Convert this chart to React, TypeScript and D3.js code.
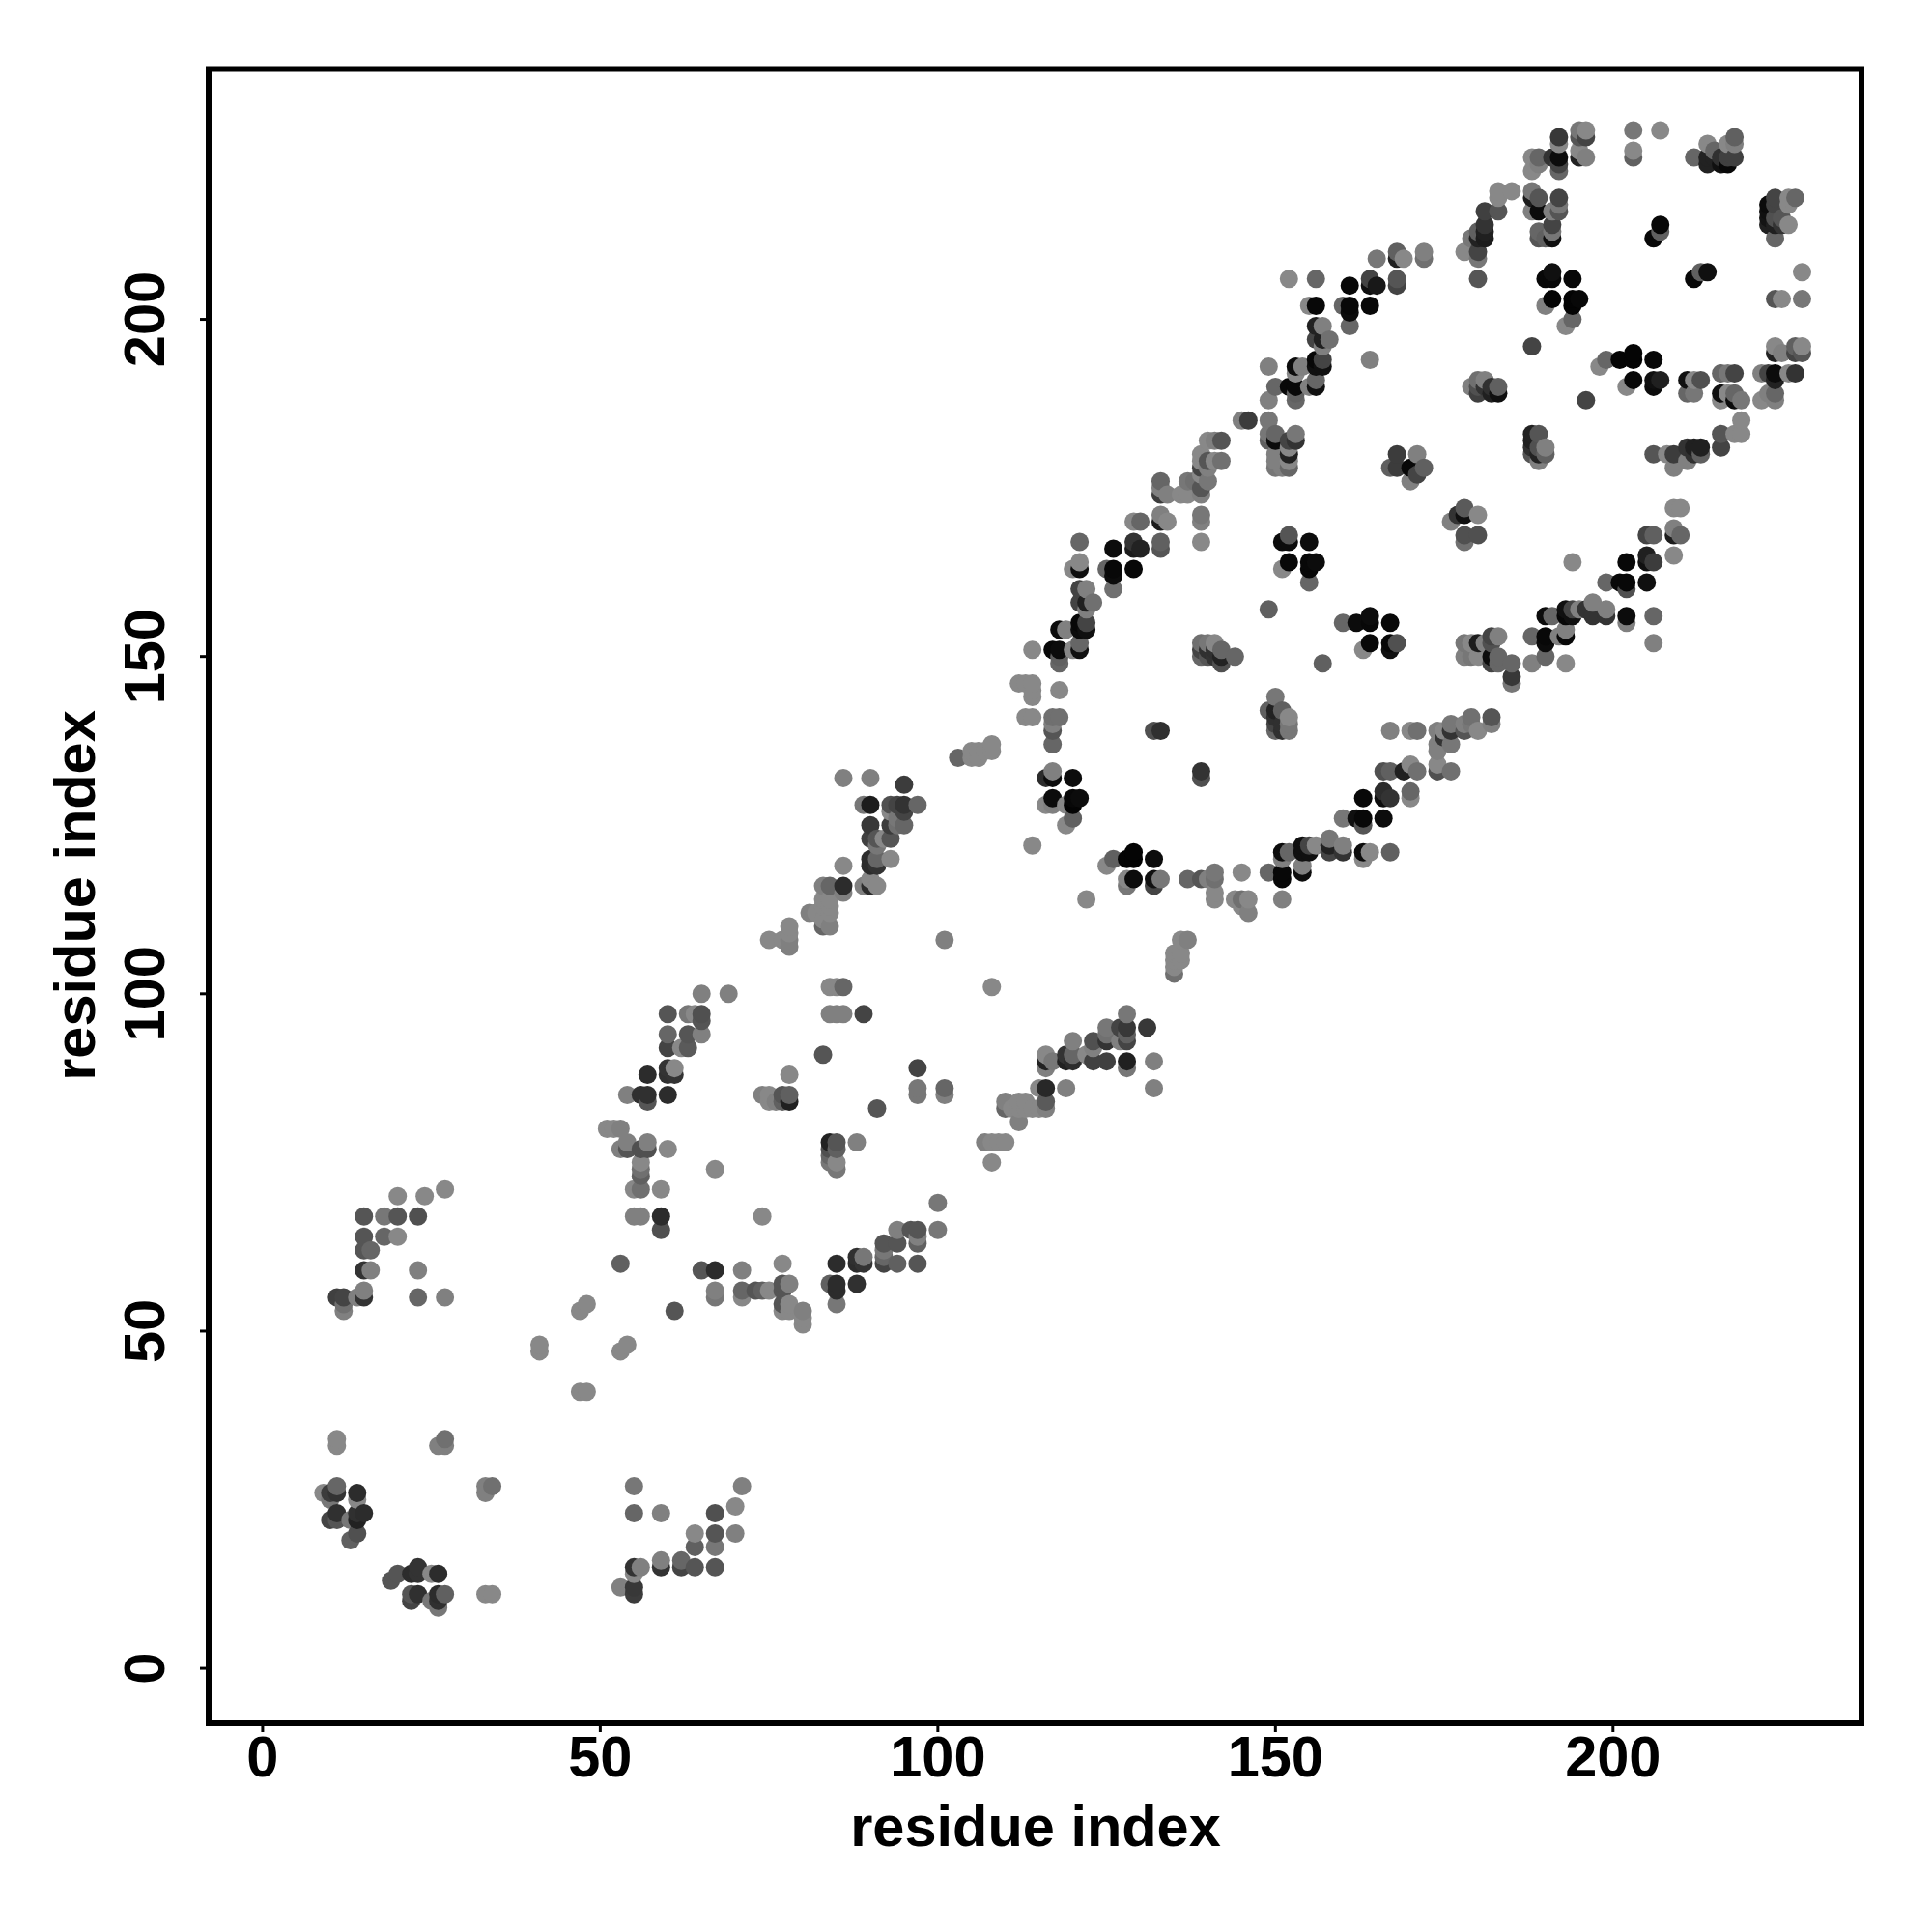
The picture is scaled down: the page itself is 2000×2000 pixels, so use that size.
import React from "react";
import * as d3 from "d3";

type Contact = [number, number, number];

const axisTicks = [0, 50, 100, 150, 200];
const axisLabel = "residue index";

// [residue i, residue j, grey level]
const contactsBottomLeft: Contact[] = [
  [20,70,0x88],[24,70,0x88],[27,71,0x88],[15,67,0x55],[18,67,0x77],[20,67,0x55],[23,67,0x50],[15,64,0x55],[18,64,0x66],[20,64,0x88],
  [15,62,0x55],[16,62,0x66],[15,59,0x33],[16,59,0x80],[23,59,0x80],[11,55,0x40],[12,55,0x44],[12,53,0x80],[12,54,0x70],[14,55,0x80],
  [15,55,0x33],[15,56,0x80],[23,55,0x66],[27,55,0x80],
  [11,34,0x88],[11,33,0x88],[27,34,0x70],[26,33,0x80],[27,33,0x80],
  [9,26,0x88],[10,26,0x3c],[11,27,0x66],[11,26,0x33],[10,25,0x77],[14,26,0x2c],[14,25,0x88],[11,23,0x30],[10,22,0x44],[11,22,0x55],
  [13,22,0x77],[14,22,0x22],[15,23,0x2c],[14,23,0x30],[14,20,0x50],[13,19,0x60],
  [20,14,0x55],[19,13,0x55],[22,14,0x2c],[23,15,0x33],[23,14,0x33],[25,14,0x88],[26,14,0x2c],[22,11,0x55],[22,10,0x44],[23,11,0x30],
  [25,10,0x77],[26,11,0x2c],[26,10,0x30],[27,11,0x60],[26,9,0x77],[33,11,0x88],[34,11,0x88],[33,27,0x80],[34,27,0x70],[33,26,0x80],
  [55,27,0x77],[71,27,0x80],[70,24,0x88],[55,23,0x66],[59,23,0x80],[67,23,0x50],[64,20,0x88],[67,20,0x55],[70,20,0x80],[64,18,0x60],
  [67,18,0x77],[55,15,0x33],[56,15,0x80],[55,14,0x88],[59,16,0x80],[59,15,0x33],[62,16,0x66],[62,15,0x44],[64,15,0x55],[67,15,0x55],
  [53,12,0x80],[55,12,0x38],[55,11,0x3c],
  [47,53,0x88],[48,54,0x88],[41,48,0x88],[41,47,0x88],[54,48,0x88],[53,47,0x88],[47,41,0x88],[48,41,0x88],
];

const contactsLowerMiddle: Contact[] = [
  [56,75,0x88],[56,74,0x70],[56,73,0x60],[55,71,0x88],[56,71,0x70],[59,71,0x88],[67,74,0x88],[55,67,0x80],[56,67,0x80],[59,67,0x2c],
  [59,65,0x50],[74,67,0x88],[53,60,0x60],[65,59,0x55],[67,59,0x2c],[71,59,0x80],[67,56,0x80],[67,55,0x77],[71,55,0x88],[71,56,0x66],
  [73,56,0x55],[74,56,0x60],[75,56,0x88],[61,53,0x55],
  [75,108,0x88],[78,110,0x88],[78,109,0x88],[78,108,0x80],[78,107,0x80],[77,108,0x88],[83,110,0x66],[84,110,0x80],[101,108,0x80],
  [108,101,0x88],[84,101,0x88],[85,101,0x88],[86,101,0x66],[84,97,0x80],[85,97,0x80],[86,97,0x80],[89,97,0x44],
  [65,100,0x80],[69,100,0x80],[60,97,0x55],[63,97,0x77],[64,97,0x88],[65,97,0x50],[65,96,0x55],[65,94,0x80],[60,94,0x66],[63,94,0x55],
  [60,92,0x44],[62,92,0x88],[63,92,0x5a],[60,89,0x33],[60,88,0x30],[61,89,0x88],[61,88,0x33],[57,88,0x2c],[54,85,0x80],[56,85,0x30],
  [57,85,0x30],[57,84,0x55],[60,85,0x2c],[78,88,0x88],[83,91,0x55],[74,85,0x80],[75,85,0x88],[75,84,0x88],[77,85,0x55],[78,85,0x60],
  [78,84,0x20],[76,84,0x80],[77,84,0x60],[91,83,0x55],[97,89,0x44],[97,86,0x77],[97,85,0x77],[101,86,0x66],[101,85,0x80],
  [51,80,0x88],[52,80,0x88],[53,80,0x80],[53,77,0x80],[54,78,0x80],[54,77,0x55],[56,77,0x50],[57,78,0x80],[57,77,0x50],[60,77,0x88],
  [77,60,0x88],[77,57,0x55],[78,57,0x80],[77,56,0x55],[77,54,0x55],[77,53,0x88],[78,54,0x88],[78,53,0x88],[80,53,0x80],[80,52,0x88],[80,51,0x88],
  [85,60,0x2c],[88,61,0x30],[89,61,0x77],[88,60,0x2c],[89,60,0x33],[84,57,0x60],[85,57,0x2c],[85,56,0x2c],[88,57,0x30],[85,54,0x77],
  [92,63,0x55],[92,62,0x77],[92,60,0x44],[92,61,0x66],[94,63,0x55],[94,60,0x60],[94,65,0x80],[96,65,0x55],[97,65,0x55],[97,64,0x80],
  [97,63,0x60],[97,60,0x55],[100,69,0x77],[100,65,0x77],
  [84,78,0x22],[85,78,0x55],[84,77,0x50],[85,77,0x60],[84,75,0x77],[85,75,0x88],[85,74,0x77],[84,76,0x66],[88,78,0x80],
  [107,78,0x80],[108,78,0x88],[109,78,0x88],[110,78,0x88],[108,75,0x88],[110,84,0x80],[110,83,0x66],[111,83,0x88],[112,84,0x88],
  [112,83,0x88],[113,84,0x88],[113,83,0x88],[114,83,0x88],[115,83,0x88],[112,81,0x80],
];

const contactsCentre: Contact[] = [
  [103,135,0x66],[105,136,0x88],[105,135,0x88],[106,136,0x88],[106,135,0x88],[107,136,0x88],[108,137,0x88],[108,136,0x88],
  [86,132,0x80],[90,132,0x80],[95,131,0x3c],[89,128,0x77],[90,128,0x1c],[93,128,0x50],[94,128,0x44],[95,128,0x33],[95,127,0x44],[97,128,0x66],
  [93,127,0x88],[94,126,0x77],[95,125,0x66],[94,125,0x70],[90,125,0x38],[93,125,0x3c],[90,123,0x40],[93,123,0x55],[91,123,0x55],[92,123,0x88],
  [91,122,0x77],[90,120,0x2c],[90,119,0x2c],[91,120,0x66],[91,119,0x33],[93,120,0x88],[86,119,0x88],[89,116,0x80],[90,116,0x2c],[91,116,0x88],
  [90,117,0x88],[86,116,0x2c],[86,115,0x80],[84,116,0x66],[83,116,0x80],[83,114,0x88],[84,114,0x88],[83,113,0x88],[84,113,0x88],[81,112,0x80],
  [82,112,0x88],[83,110,0x66],[84,110,0x80],[83,111,0x88],[84,112,0x88],
  [117,133,0x80],[116,132,0x2c],[117,132,0x0c],[120,132,0x0c],[117,129,0x0c],[116,128,0x88],[117,128,0x80],[119,128,0x88],[120,129,0x08],
  [121,129,0x0c],[120,128,0x04],[120,126,0x60],[119,125,0x88],[114,122,0x88],[117,137,0x66],[117,139,0x55],[117,140,0x80],[132,139,0x50],
  [133,139,0x30],[139,133,0x33],[139,132,0x50],
  [125,119,0x88],[126,120,0x60],[128,120,0x04],[129,121,0x04],[129,120,0x04],[132,120,0x0c],[129,117,0x0c],[128,117,0x88],[128,116,0x77],
  [132,117,0x10],[133,117,0x77],[132,116,0x44],[122,114,0x88],[137,117,0x66],[139,117,0x55],[140,117,0x80],[141,118,0x77],[141,117,0x70],
  [141,115,0x88],[141,114,0x88],[145,118,0x88],[144,114,0x88],[145,114,0x70],[146,114,0x88],[145,113,0x88],[146,112,0x80],
  [136,108,0x88],[137,108,0x80],[135,106,0x88],[136,106,0x88],[135,105,0x88],[136,105,0x88],[135,104,0x88],[135,103,0x70],
  [128,97,0x77],[125,95,0x77],[127,95,0x44],[128,95,0x38],[131,95,0x38],[128,94,0x60],[127,93,0x80],[128,93,0x44],[125,94,0x70],[125,93,0x33],
  [123,93,0x50],[120,93,0x80],[123,92,0x80],[120,91,0x66],[119,91,0x33],[119,90,0x22],[120,90,0x2c],[122,91,0x88],[123,90,0x40],[125,90,0x40],
  [128,90,0x20],[128,89,0x77],[132,90,0x80],[132,86,0x80],[116,91,0x88],[116,90,0x22],[117,90,0x77],[116,89,0x80],[115,86,0x88],[116,86,0x28],
  [119,86,0x80],[116,84,0x5a],[116,83,0x80],
];

const contactsUpperMiddle: Contact[] = [
  [133,176,0x66],[137,176,0x77],[138,176,0x70],[133,174,0x3c],[134,174,0x80],[136,174,0x88],[137,174,0x88],[139,174,0x80],[133,175,0x80],[139,175,0x55],
  [133,171,0x80],[134,170,0x88],[133,170,0x1c],[129,170,0x88],[130,170,0x66],[139,171,0x77],[139,170,0x80],[139,167,0x88],
  [121,167,0x66],[126,166,0x0c],[129,167,0x33],[129,166,0x1c],[130,166,0x22],[133,167,0x60],[133,166,0x55],[121,164,0x88],[120,163,0x88],
  [121,163,0x10],[125,163,0x66],[126,163,0x08],[126,162,0x0c],[129,163,0x08],[126,160,0x70],[121,160,0x44],[122,160,0x80],[121,158,0x44],
  [122,158,0x20],[123,158,0x70],[122,157,0x80],[121,155,0x08],[121,154,0x0c],[122,155,0x44],[122,154,0x10],[118,154,0x0c],[119,154,0x80],
  [117,151,0x08],[118,151,0x0c],[114,151,0x88],[118,150,0x60],[118,149,0x66],[121,152,0x66],[121,151,0x10],[120,151,0x88],[118,145,0x88],
  [112,146,0x88],[113,146,0x88],[114,146,0x88],[114,145,0x88],[114,144,0x88],[114,141,0x88],[113,141,0x88],[117,141,0x70],[118,141,0x70],
  [139,152,0x70],[140,152,0x77],[141,152,0x88],[139,151,0x44],[140,151,0x30],[141,151,0x30],[142,151,0x66],[139,150,0x66],[140,150,0x55],
  [141,150,0x33],[142,150,0x22],[142,149,0x50],[144,150,0x66],[149,157,0x60],[152,168,0x55],[151,167,0x0c],[152,167,0x0c],[155,167,0x0c],
  [152,164,0x08],[151,163,0x88],[155,164,0x08],[156,164,0x0c],[155,163,0x08],[155,161,0x66],[157,149,0x60],
  [160,155,0x66],[162,155,0x0c],[164,156,0x0c],[164,155,0x08],[167,155,0x08],[164,152,0x08],[163,151,0x88],[167,152,0x08],[167,151,0x10],[168,152,0x50],
  [150,144,0x77],[149,142,0x60],[150,142,0x22],[151,142,0x60],[150,141,0x30],[152,141,0x88],[150,140,0x44],[151,140,0x30],[152,140,0x77],
  [150,139,0x66],[151,139,0x30],[152,139,0x77],[167,139,0x80],[170,139,0x88],[171,139,0x70],[174,139,0x80],
  [166,133,0x50],[167,133,0x60],[170,134,0x88],[171,133,0x70],[169,133,0x20],[166,130,0x2c],[166,129,0x0c],[167,129,0x33],[163,129,0x08],
  [170,130,0x66],[170,129,0x88],[160,126,0x77],[162,126,0x10],[163,126,0x08],[163,125,0x55],[166,126,0x0c],
  [151,121,0x0c],[152,121,0x66],[151,120,0x80],[154,122,0x10],[154,121,0x10],[155,122,0x44],[155,121,0x10],[156,122,0x88],[158,123,0x77],
  [158,122,0x22],[158,121,0x44],[160,122,0x80],[160,121,0x33],[163,121,0x0c],[164,121,0x88],[163,120,0x88],[167,121,0x60],[149,118,0x66],
  [151,118,0x08],[151,117,0x08],[154,119,0x80],[154,118,0x0c],[151,114,0x80],
  [176,140,0x77],[176,139,0x33],[175,138,0x33],[175,139,0x88],[178,139,0x55],[178,140,0x80],[179,141,0x70],[179,140,0x77],[180,139,0x88],
  [182,141,0x55],[182,140,0x80],[174,137,0x80],[176,137,0x77],[174,136,0x80],[174,134,0x88],[174,133,0x50],[176,133,0x70],
];

const contactsRing: Contact[] = [
  [165,209,0x77],[168,210,0x60],[169,209,0x88],[168,209,0x20],[172,210,0x80],[172,209,0x70],[152,206,0x88],[156,206,0x66],[161,205,0x08],
  [164,206,0x44],[164,205,0x10],[165,205,0x18],[168,206,0x55],[168,205,0x44],[155,202,0x88],[156,202,0x08],[160,202,0x66],[161,202,0x08],
  [161,201,0x0c],[164,202,0x08],[161,199,0x66],[164,194,0x80],[156,199,0x22],[157,199,0x80],[156,197,0x44],[157,197,0x20],[158,197,0x70],
  [157,196,0x80],[156,194,0x08],[156,193,0x10],[157,194,0x44],[157,193,0x10],[153,193,0x0c],[154,193,0x80],[153,192,0x88],[149,193,0x80],
  [150,190,0x66],[152,190,0x08],[153,190,0x08],[153,188,0x66],[149,188,0x80],[156,191,0x66],[156,190,0x10],[155,190,0x80],[153,189,0x60],
  [145,185,0x80],[146,185,0x3c],[149,185,0x77],[149,183,0x77],[150,183,0x66],[149,182,0x60],[150,182,0x0c],[153,183,0x77],[153,182,0x33],
  [152,182,0x44],[152,181,0x88],[152,180,0x22],[150,180,0x80],[150,179,0x80],[150,178,0x77],[151,178,0x80],[152,179,0x88],[152,178,0x66],
  [140,182,0x88],[142,182,0x55],[141,182,0x80],[140,179,0x55],[139,179,0x88],[141,179,0x88],[142,179,0x70],[140,178,0x80],[139,177,0x88],
  [140,176,0x77],[139,178,0x44],[139,180,0x88],
  [168,180,0x3c],[171,180,0x80],[167,178,0x60],[168,178,0x3c],[170,178,0x08],[172,178,0x60],[171,177,0x44],[170,176,0x80],
  [199,161,0x66],[201,161,0x08],[202,161,0x08],[202,160,0x50],[205,161,0x10],[202,156,0x0c],[202,155,0x80],[206,156,0x66],[206,152,0x80],
  [190,156,0x0c],[191,156,0x66],[193,157,0x10],[193,156,0x08],[194,157,0x44],[194,156,0x10],[195,157,0x80],[196,157,0x33],[197,158,0x80],
  [197,156,0x33],[199,157,0x80],[199,156,0x33],[188,153,0x66],[190,153,0x08],[190,152,0x0c],[190,150,0x66],[192,153,0x80],[193,154,0x80],
  [193,153,0x08],[188,149,0x80],[193,149,0x88],[178,152,0x77],[179,152,0x88],[180,152,0x1c],[181,152,0x80],[182,153,0x44],[183,153,0x80],
  [182,152,0x50],[178,150,0x80],[179,150,0x77],[180,150,0x88],[182,150,0x0c],[182,149,0x44],[183,150,0x66],[183,149,0x66],[185,149,0x66],
  [185,147,0x38],[185,146,0x77],
];

const contactsTopRight: Contact[] = [
  [192,227,0x38],[192,226,0x88],[195,228,0x77],[196,228,0x88],[195,227,0x55],[196,227,0x44],[203,228,0x77],[207,228,0x88],[203,225,0x88],[203,224,0x60],
  [188,224,0x88],[189,224,0x66],[191,224,0x33],[192,224,0x0c],[192,223,0x44],[192,222,0x66],[189,223,0x80],[188,222,0x88],[195,225,0x88],
  [195,224,0x22],[196,224,0x80],[214,226,0x88],[212,224,0x66],[214,224,0x22],[215,225,0x66],[215,224,0x22],[214,223,0x22],[216,224,0x30],
  [216,223,0x10],[217,223,0x08],[217,226,0x88],[218,227,0x60],[218,226,0x80],[218,224,0x40],[217,224,0x40],
  [183,219,0x88],[185,219,0x88],[183,218,0x88],[181,216,0x40],[183,216,0x55],[188,219,0x77],[188,218,0x1c],[189,218,0x55],[192,218,0x44],
  [192,217,0x77],[188,216,0x80],[189,216,0x0c],[191,216,0x80],[192,216,0x55],[189,213,0x66],[189,212,0x55],[190,212,0x60],[191,214,0x44],
  [191,213,0x77],[191,212,0x10],[180,213,0x60],[181,213,0x20],[181,214,0x33],[179,212,0x77],[180,212,0x22],[181,212,0x1c],[180,210,0x44],
  [180,209,0x77],[178,210,0x88],[180,206,0x55],
  [190,206,0x08],[191,207,0x10],[191,206,0x08],[194,206,0x08],[191,203,0x04],[190,202,0x80],[194,203,0x04],[195,203,0x08],[194,202,0x04],
  [194,200,0x66],[193,199,0x88],[188,196,0x44],[207,214,0x08],[207,213,0x60],[206,212,0x08],[212,206,0x08],[213,207,0x60],[214,207,0x10],
  [223,217,0x0c],[223,216,0x10],[223,215,0x14],[223,214,0x20],[224,218,0x44],[224,217,0x44],[224,215,0x50],[224,214,0x20],[224,212,0x66],
  [226,218,0x88],[227,218,0x66],[226,217,0x88],[225,215,0x55],[226,214,0x88],[225,214,0x33],[228,207,0x88],[224,203,0x55],[225,203,0x88],[228,203,0x77],
  [224,196,0x88],[227,196,0x60],[228,196,0x88],[224,195,0x22],[225,195,0x80],[227,195,0x44],[228,195,0x55],
  [222,192,0x80],[223,192,0x44],[224,192,0x0c],[226,192,0x88],[227,192,0x33],[224,191,0x22],[224,189,0x66],[223,189,0x80],[222,188,0x88],[224,188,0x80],
  [199,194,0x66],[198,193,0x88],[201,194,0x04],[203,195,0x04],[203,194,0x04],[206,194,0x08],[203,191,0x08],[202,190,0x88],[206,191,0x10],
  [207,191,0x20],[206,190,0x0c],[211,191,0x10],[211,189,0x66],[212,189,0x77],[213,191,0x50],[212,191,0x88],[216,192,0x66],[217,192,0x77],
  [218,192,0x44],[216,189,0x10],[216,188,0x88],[217,189,0x88],[218,189,0x66],[218,188,0x0c],[219,188,0x77],[219,185,0x88],[218,183,0x88],
  [219,183,0x88],[216,183,0x55],[216,181,0x44],[212,181,0x20],[213,181,0x20],[211,181,0x33],[212,180,0x30],[213,180,0x60],[209,180,0x3c],
  [208,180,0x88],[206,180,0x55],[209,178,0x80],[211,179,0x80],
  [179,190,0x80],[180,191,0x70],[181,191,0x80],[180,189,0x40],[181,190,0x33],[182,190,0x30],[183,190,0x60],[182,189,0x20],[183,189,0x10],[180,190,0x50],
  [196,188,0x44],[188,183,0x22],[189,183,0x55],[188,182,0x20],[188,181,0x30],[188,180,0x55],[189,181,0x50],[189,180,0x22],[190,181,0x80],
  [190,180,0x60],[189,179,0x80],
  [178,172,0x5a],[177,171,0x33],[176,170,0x80],[178,171,0x10],[180,171,0x88],[178,168,0x50],[180,168,0x50],[178,167,0x70],
  [209,172,0x88],[210,172,0x88],[209,169,0x80],[209,168,0x1c],[210,168,0x66],[209,165,0x88],[205,168,0x44],[206,168,0x60],[205,165,0x20],
  [205,164,0x10],[206,164,0x3c],[202,164,0x08],[194,164,0x88],
];

const W = 2000;
const H = 2000;
const frame = { left: 216, right: 1927, top: 71.5, bottom: 1784 };
const FONT = '"Liberation Sans", Arial, sans-serif';
const TICK_SIZE = 59.5;

const x = d3.scaleLinear().domain([-8, 236.8]).range([frame.left, frame.right]);
const y = d3.scaleLinear().domain([-8.15, 237.1]).range([frame.bottom, frame.top]);
const shade = (g: number) => d3.rgb(g, g, g).formatHex();

const allContacts: Contact[] = Array.from(
  new Map(
    [
      ...contactsBottomLeft,
      ...contactsLowerMiddle,
      ...contactsCentre,
      ...contactsUpperMiddle,
      ...contactsRing,
      ...contactsTopRight,
    ].map((c) => [`${c[0]},${c[1]}`, c] as [string, Contact])
  ).values()
).sort((a, b) => d3.ascending(a[0], b[0]) || d3.ascending(a[1], b[1]));

export default function App() {
  return (
    <svg
      width={W}
      height={H}
      viewBox={`0 0 ${W} ${H}`}
      style={{ position: "absolute", left: 0, top: 0, background: "#fff" }}
      fontFamily={FONT}
      fontWeight="bold"
    >
      <g>
        {allContacts.map(([i, j, g]) => (
          <circle key={`${i}-${j}`} cx={x(i)} cy={y(j)} r={9.5} fill={shade(g)} />
        ))}
      </g>
      <rect
        x={frame.left}
        y={frame.top}
        width={frame.right - frame.left}
        height={frame.bottom - frame.top}
        fill="none"
        stroke="#000"
        strokeWidth={6}
      />
      {axisTicks.map((t) => (
        <g key={`x${t}`}>
          <line x1={x(t)} x2={x(t)} y1={frame.bottom} y2={frame.bottom + 9} stroke="#000" strokeWidth={3} />
          <text x={x(t)} y={1839} fontSize={TICK_SIZE} textAnchor="middle" fill="#000">
            {t}
          </text>
        </g>
      ))}
      {axisTicks.map((t) => (
        <g key={`y${t}`}>
          <line x1={frame.left - 9} x2={frame.left} y1={y(t)} y2={y(t)} stroke="#000" strokeWidth={3} />
          <text
            transform={`translate(170,${y(t)}) rotate(-90)`}
            fontSize={TICK_SIZE}
            textAnchor="middle"
            fill="#000"
          >
            {t}
          </text>
        </g>
      ))}
      <text x={1072} y={1911} fontSize={TICK_SIZE} textAnchor="middle" fill="#000">
        {axisLabel}
      </text>
      <text transform="translate(98,927) rotate(-90)" fontSize={TICK_SIZE} textAnchor="middle" fill="#000">
        {axisLabel}
      </text>
    </svg>
  );
}
